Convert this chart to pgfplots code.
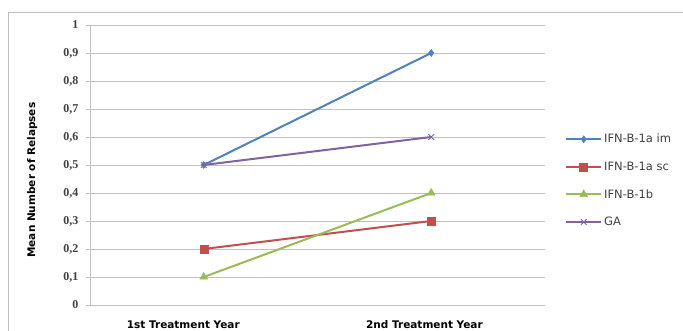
\documentclass[border=0pt]{standalone}
\usepackage{fontspec}
\setmainfont{Liberation Serif}
\setsansfont{DejaVu Sans}
\usepackage{pgfplots}
\pgfplotsset{compat=1.18}

\definecolor{sBlue}{HTML}{4F81BD}
\definecolor{sRed}{HTML}{C0504D}
\definecolor{sGreen}{HTML}{9BBB59}
\definecolor{sPurple}{HTML}{8064A2}
\definecolor{gridgray}{HTML}{C0C0C0}
\definecolor{txtgray}{HTML}{404040}

\begin{document}
\begin{tikzpicture}
  \useasboundingbox (0pt,0pt) rectangle (683pt,331pt);
  % outer chart frame
  \draw[gridgray, line width=0.8pt] (8pt,-5pt) -- (8pt,319pt) -- (690pt,319pt);

  \begin{axis}[
    at={(90pt,26pt)}, anchor=south west,
    scale only axis, width=455pt, height=280pt,
    xmin=-0.5, xmax=1.5, ymin=0, ymax=1,
    xtick={-0.09,0.97},
    xticklabels={1st Treatment Year, 2nd Treatment Year},
    xticklabel style={font=\sffamily\bfseries\fontsize{10.5}{12}\selectfont, text=black, yshift=-8pt},
    major x tick style={draw=none},
    ytick={0,0.1,...,1},
    yticklabel style={font=\bfseries\fontsize{12}{14}\selectfont, text=txtgray, xshift=-4pt},
    /pgf/number format/.cd, use comma, fixed, assume math mode=true,
    /pgfplots/.cd,
    ymajorgrids, grid style={gridgray, line width=0.7pt},
    axis x line=bottom, axis y line=left,
    axis line style={-, gridgray, line width=0.8pt},
    y tick style={gridgray, line width=0.8pt},
    tick align=outside, major tick length=4pt,
    ylabel={Mean Number of Relapses},
    ylabel style={font=\sffamily\bfseries\fontsize{10.5}{12}\selectfont, at={(axis description cs:-0.127,0.446)}, anchor=center},
    legend style={at={(1.044,0.618)}, anchor=north west, draw=none, fill=none,
      font=\sffamily\fontsize{11.5}{13}\selectfont, text=txtgray,
      row sep=13.5pt, inner sep=0pt},
    legend cell align=left,
    legend image code/.code={%
      \draw[mark repeat=2,mark phase=2] plot coordinates {(0pt,0pt) (17.5pt,0pt) (35pt,0pt)};},
    every axis plot/.append style={line width=2pt},
    clip=false,
  ]
    \addplot[sBlue, mark=diamond*, mark size=3.5pt, mark options={fill=sBlue, line width=0.5pt}]
      coordinates {(0,0.5) (1,0.9)};
    \addlegendentry{IFN-B-1a im}
    \addplot[sRed, mark=square*, mark size=4pt, mark options={fill=sRed, line width=0.5pt}]
      coordinates {(0,0.2) (1,0.3)};
    \addlegendentry{IFN-B-1a sc}
    \addplot[sGreen, mark=triangle*, mark size=4.5pt, mark options={fill=sGreen, line width=0.5pt}]
      coordinates {(0,0.1) (1,0.4)};
    \addlegendentry{IFN-B-1b}
    \addplot[sPurple, mark=x, mark size=4pt, mark options={line width=0.8pt}]
      coordinates {(0,0.5) (1,0.6)};
    \addlegendentry{GA}
  \end{axis}
\end{tikzpicture}
\end{document}
